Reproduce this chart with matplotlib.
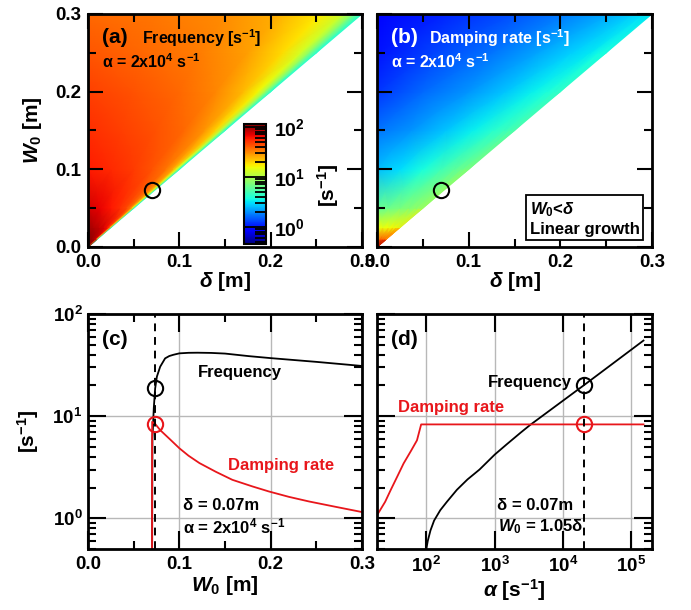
import numpy as np
import matplotlib
matplotlib.use('Agg')
import matplotlib.pyplot as plt
from matplotlib.colors import LogNorm
from matplotlib.ticker import MultipleLocator, LogLocator, NullLocator

plt.rcParams['font.family'] = ['Liberation Sans', 'DejaVu Sans']
plt.rcParams['font.weight'] = 'bold'
plt.rcParams['axes.labelweight'] = 'bold'
plt.rcParams['mathtext.fontset'] = 'custom'
plt.rcParams['mathtext.rm'] = 'Liberation Sans'
plt.rcParams['mathtext.it'] = 'Liberation Sans:italic'
plt.rcParams['mathtext.bf'] = 'Liberation Sans:bold'
plt.rcParams['mathtext.default'] = 'regular'
plt.rcParams['axes.linewidth'] = 2

# Parameters -------------------------------------------------------------------
delta0 = 0.07        # m
w0_factor = 1.05     # W0 = 1.05 delta
alpha0 = 2e4         # s^-1

# (a), (b) maps: rows = W0 [m], columns = delta / W0
w0_rows = [0.0, 0.01, 0.025, 0.05, 0.1, 0.15, 0.2, 0.25, 0.3]
ratio_cols = [0.0, 0.25, 0.5, 0.7, 0.85, 0.93, 0.97, 1.0]
freq_map = [
    [120, 120, 120, 120, 120, 120, 120, 120],
    [110, 105, 98, 90, 80, 62, 38, 4],
    [95, 88, 80, 72, 62, 47, 28, 4],
    [75, 68, 60, 52, 44, 34, 20, 4],
    [59, 54, 48, 42, 35, 26, 14, 4],
    [52, 47, 42, 37, 29, 20, 11, 4],
    [47, 42, 37, 31, 23, 16, 9, 4],
    [41, 37, 33, 27, 19, 13, 7.5, 4],
    [37, 34, 30, 24, 17, 12, 7, 4],
]
damp_map = [
    [100, 100, 100, 100, 100, 100, 100, 100],
    [40, 40, 42, 42, 44, 44, 45, 45],
    [15, 15, 15.5, 16, 16, 16.5, 17, 17],
    [6, 6.5, 7, 7.5, 8, 8.5, 9, 9],
    [2.5, 3.0, 3.7, 4.8, 5.8, 6.5, 7.0, 7.2],
    [1.7, 2.0, 2.6, 3.3, 4.1, 4.6, 5.0, 5.2],
    [1.2, 1.6, 2.0, 2.6, 3.3, 3.8, 4.1, 4.3],
    [1.0, 1.3, 1.7, 2.2, 2.8, 3.2, 3.5, 3.7],
    [0.9, 1.1, 1.4, 1.8, 2.3, 2.7, 3.0, 3.2],
]

# (c) scan in W0 at delta = 0.07 m
w0_freq = [0.0700, 0.0705, 0.0720, 0.0735, 0.0754, 0.0790, 0.0844, 0.0890,
           0.0935, 0.100, 0.110, 0.120, 0.135, 0.150, 0.176, 0.200, 0.250, 0.300]
freq_c = [0.1, 6.0, 12.0, 18.7, 24.4, 30.5, 36.8, 38.8,
          39.9, 41.2, 41.7, 41.8, 41.6, 41.0, 38.7, 37.0, 34.0, 31.0]
w0_damp = [0.0700, 0.0702, 0.0735, 0.079, 0.090, 0.100, 0.110, 0.122, 0.140,
           0.158, 0.180, 0.198, 0.220, 0.242, 0.270, 0.300]
damp_c = [0.1, 8.8, 8.4, 7.3, 5.9, 4.85, 4.1, 3.47, 2.85,
          2.38, 2.05, 1.83, 1.62, 1.46, 1.30, 1.15]

# (d) scan in alpha at delta = 0.07 m, W0 = 1.05 delta
alpha_freq = [96, 100, 105, 115, 130, 160, 200, 280, 400, 600, 1000, 1500,
              2400, 3300, 2e4, 1.5e5]
freq_d = [0.3, 0.5, 0.6, 0.76, 0.95, 1.2, 1.45, 1.9, 2.4, 3.0, 4.2, 5.3,
          6.9, 8.2, 20.0, 55.0]
alpha_damp = [19, 25, 30, 38, 46.5, 60, 73, 84, 1.5e5]
damp_d = [1.07, 1.45, 1.88, 2.6, 3.44, 4.6, 5.8, 8.3, 8.3]

red = '#e8161b'
norm = LogNorm(vmin=0.45, vmax=113)

fig = plt.figure(figsize=(6.91, 6.10), dpi=100)
ax_a = fig.add_axes([0.1274, 0.5951, 0.3965, 0.382])
ax_b = fig.add_axes([0.5456, 0.5951, 0.3980, 0.382])
ax_c = fig.add_axes([0.1274, 0.1000, 0.3965, 0.3852])
ax_d = fig.add_axes([0.5456, 0.1000, 0.3980, 0.3852])
cax = fig.add_axes([0.3531, 0.6000, 0.0318, 0.1967])


def style_ticks(ax):
    ax.tick_params(which='both', direction='in', top=True, right=True,
                   width=1.5, labelsize=13.5, pad=5)
    ax.tick_params(which='major', length=11)
    ax.tick_params(which='minor', length=6)


# Maps -------------------------------------------------------------------------
W, R = np.meshgrid(w0_rows, ratio_cols, indexing='ij')
for ax, z in [(ax_a, freq_map), (ax_b, damp_map)]:
    mesh = ax.pcolormesh(R * W, W, np.array(z, dtype=float), cmap='jet',
                         norm=norm, shading='gouraud')
    ax.plot(delta0, delta0 * w0_factor, 'o', mfc='none', mec='k', ms=11, mew=1.5)
    ax.set_xlim(0, 0.3)
    ax.set_ylim(0, 0.3)
    ax.xaxis.set_major_locator(MultipleLocator(0.1))
    ax.xaxis.set_minor_locator(MultipleLocator(0.05))
    ax.yaxis.set_major_locator(MultipleLocator(0.1))
    ax.yaxis.set_minor_locator(MultipleLocator(0.05))
    style_ticks(ax)
    ax.set_xlabel(r'$\mathit{\delta}$ [m]', fontsize=15)
    ax.xaxis.set_label_coords(0.5, -0.1)

ax_a.set_ylabel(r'$\mathit{W}_\mathrm{0}$ [m]', fontsize=15)
ax_a.yaxis.set_label_coords(-0.16, 0.5)
ax_b.tick_params(labelleft=False)

ax_a.text(0.05, 0.9, '(a)', transform=ax_a.transAxes, fontsize=15, va='center')
ax_a.text(0.197, 0.897, r'Frequency [s$^{-1}$]', transform=ax_a.transAxes,
          fontsize=11.5, va='center')
ax_a.text(0.05, 0.794, r'α = 2x10$^{4}$ s$^{-1}$', transform=ax_a.transAxes,
          fontsize=11.5, va='center')
ax_b.text(0.05, 0.9, '(b)', transform=ax_b.transAxes, fontsize=15, va='center',
          color='white')
ax_b.text(0.189, 0.897, r'Damping rate [s$^{-1}$]', transform=ax_b.transAxes,
          fontsize=11.5, va='center', color='white')
ax_b.text(0.05, 0.794, r'α = 2x10$^{4}$ s$^{-1}$', transform=ax_b.transAxes,
          fontsize=11.5, va='center', color='white')
ax_b.text(0.955, 0.045, '$\\mathit{W}_\\mathrm{0}$<$\\mathit{\\delta}$\nLinear growth',
          transform=ax_b.transAxes, fontsize=12, ha='right', va='bottom',
          multialignment='left',
          bbox=dict(boxstyle='square,pad=0.2', fc='white', ec='black', lw=1.3))

# Colorbar
cb = fig.colorbar(mesh, cax=cax)
cb.outline.set_linewidth(1.5)
cax.yaxis.set_minor_locator(LogLocator(base=10, subs=range(2, 10)))
cax.tick_params(which='both', direction='in', color='black', width=1.3,
                labelsize=14, pad=6)
cax.tick_params(which='major', length=16)
cax.tick_params(which='minor', length=8)
fig.text(328 / 691, 1 - 185 / 610, r'[s$^{-1}$]', rotation=90, fontsize=15,
         ha='center', va='center')

# (c) --------------------------------------------------------------------------
ax_c.plot(w0_freq, freq_c, color='black', lw=1.3)
ax_c.plot(w0_damp, damp_c, color=red, lw=1.3)
ax_c.axvline(delta0 * w0_factor, color='black', lw=1.4, ls=(0, (4, 3)))
ax_c.plot(delta0 * w0_factor, freq_c[3], 'o', mfc='none', mec='k', ms=11, mew=1.5)
ax_c.plot(delta0 * w0_factor, damp_c[2], 'o', mfc='none', mec=red, ms=11, mew=1.5)
ax_c.set_yscale('log')
ax_c.set_xlim(0, 0.3)
ax_c.set_ylim(0.5, 100)
ax_c.xaxis.set_major_locator(MultipleLocator(0.1))
ax_c.xaxis.set_minor_locator(MultipleLocator(0.05))
ax_c.set_xlabel(r'$\mathit{W}_\mathrm{0}$ [m]', fontsize=15)
ax_c.xaxis.set_label_coords(0.5, -0.105)
ax_c.set_ylabel(r'[s$^{-1}$]', fontsize=15)
ax_c.yaxis.set_label_coords(-0.17, 0.5)
ax_c.text(0.05, 0.89, '(c)', transform=ax_c.transAxes, fontsize=15, va='center')
ax_c.text(0.40, 0.753, 'Frequency', transform=ax_c.transAxes, fontsize=12,
          va='center')
ax_c.text(0.51, 0.357, 'Damping rate', transform=ax_c.transAxes, fontsize=12,
          va='center', color=red)
ax_c.text(0.347, 0.187, 'δ = 0.07m', transform=ax_c.transAxes, fontsize=12,
          va='center')
ax_c.text(0.347, 0.094, r'α = 2x10$^{4}$ s$^{-1}$', transform=ax_c.transAxes,
          fontsize=12, va='center')

# (d) --------------------------------------------------------------------------
ax_d.plot(alpha_freq, freq_d, color='black', lw=1.3)
ax_d.plot(alpha_damp, damp_d, color=red, lw=1.3)
ax_d.axvline(alpha0, color='black', lw=1.4, ls=(0, (4, 3)))
ax_d.plot(alpha0, freq_d[14], 'o', mfc='none', mec='k', ms=11, mew=1.5)
ax_d.plot(alpha0, damp_d[7], 'o', mfc='none', mec=red, ms=11, mew=1.5)
ax_d.set_xscale('log')
ax_d.set_yscale('log')
ax_d.set_xlim(19, 2e5)
ax_d.set_ylim(0.5, 100)
ax_d.xaxis.set_major_locator(LogLocator(base=10, numticks=10))
ax_d.xaxis.set_minor_locator(NullLocator())
ax_d.set_xlabel(r'$\mathit{\alpha}$ [s$^{-1}$]', fontsize=15)
ax_d.xaxis.set_label_coords(0.5, -0.12)
ax_d.tick_params(labelleft=False)
ax_d.text(0.05, 0.89, '(d)', transform=ax_d.transAxes, fontsize=15, va='center')
ax_d.text(0.709, 0.71, 'Frequency', transform=ax_d.transAxes, fontsize=12,
          va='center', ha='right')
ax_d.text(0.076, 0.604, 'Damping rate', transform=ax_d.transAxes, fontsize=12,
          va='center', color=red)
ax_d.text(0.436, 0.187, 'δ = 0.07m', transform=ax_d.transAxes, fontsize=12,
          va='center')
ax_d.text(0.44, 0.094, r'$\mathit{W}_\mathrm{0}$ = 1.05δ', transform=ax_d.transAxes,
          fontsize=12, va='center')

for ax in (ax_c, ax_d):
    ax.yaxis.set_major_locator(LogLocator(base=10, numticks=10))
    ax.yaxis.set_minor_locator(LogLocator(base=10, subs=range(2, 10), numticks=10))
    ax.grid(which='major', color='#b8b8b8', lw=1)
    ax.set_axisbelow(True)
    style_ticks(ax)
    ax.tick_params(axis='y', pad=4)
    ax.tick_params(which='major', length=13)
    ax.tick_params(which='minor', length=6)

fig.savefig('out.png', dpi=100)
